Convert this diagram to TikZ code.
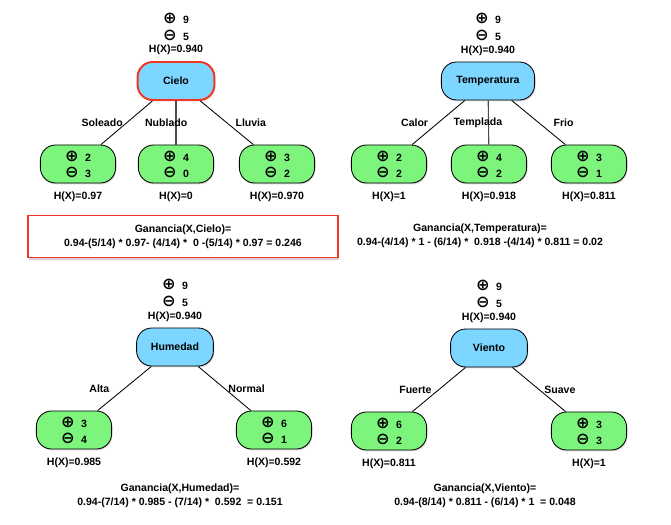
\documentclass[tikz,border=0pt]{standalone}
\usepackage{amsmath, amssymb}
\usepackage{fontspec}
\setmainfont{Liberation Sans}
\newfontfamily\symfont{DejaVu Sans}
\usepackage{tikz}
\usetikzlibrary{positioning,shadows}
\definecolor{rootblue}{RGB}{125,214,255}
\definecolor{leafgreen}{RGB}{125,245,125}
\definecolor{redline}{RGB}{240,55,35}
\newcommand{\pl}{{\symfont\bfseries\fontsize{11.5}{10}\selectfont ⊕}}
\newcommand{\mi}{{\symfont\bfseries\fontsize{11.5}{10}\selectfont ⊖}}
\newcommand{\cnt}[2]{\pl\hspace{4.5pt}#1\\\mi\hspace{4.5pt}#2}
\tikzset{
    attr/.style={
        draw,
        line width=0.6pt,
        fill=rootblue,
        rounded corners=0.38cm,
        minimum width=1.92cm,
        minimum height=0.95cm,
        drop shadow={shadow xshift=0.6pt, shadow yshift=-1pt, opacity=0.3}
    },
    leaf/.style={
        attr,
        fill=leafgreen,
        minimum width=1.88cm,
        align=center,
        font=\bfseries\fontsize{7.5}{11.3}\selectfont
    },
    counts/.style={
        align=center,
        inner sep=0pt,
        font=\bfseries\fontsize{7.5}{12}\selectfont
    },
    ent/.style={inner sep=0pt},
    lbl/.style={inner sep=2.5pt},
    gain/.style={align=center, font=\bfseries\fontsize{7.5}{10}\selectfont}
}

\begin{document}
\begin{tikzpicture}[x=0.025cm, y=-0.025cm,
    every node/.style={font=\bfseries\fontsize{7.5}{10}\selectfont}]
    \useasboundingbox (0,0) rectangle (671,525);

    % Cielo
    \node[attr, draw=redline, line width=1.4pt] (cielo) at (176,81) {Cielo};
    \node[leaf] (c1) at (78,164) {\cnt{2}{3}};
    \node[leaf] (c2) at (176,164) {\cnt{4}{0}};
    \node[leaf] (c3) at (277,164) {\cnt{3}{2}};
    \node[ent, above=4pt of cielo] (cielo-h) {H(X)=0.940};
    \node[counts, above=3pt of cielo-h] (cielo-n) {\cnt{9}{5}};
    \node[ent, below=6pt of c1] {H(X)=0.97};
    \node[ent, below=6pt of c2] {H(X)=0};
    \node[ent, below=6pt of c3] {H(X)=0.970};
    \draw[line width=0.6pt] (cielo) -- node[lbl, left] {Soleado} (c1);
    \draw[line width=0.8pt, black!70] (cielo) -- node[lbl, xshift=-7pt, black] {Nublado} (c2);
    \draw[line width=0.6pt] (cielo) -- node[lbl, right, xshift=3.4pt] {Lluvia} (c3);
    \node[gain, draw=redline, line width=1.2pt, fill=white,
          minimum width=7.75cm, minimum height=1.05cm,
          drop shadow={shadow xshift=0.6pt, shadow yshift=-1.5pt, opacity=0.35}]
        (cielo-g) at (183,236.5)
        {Ganancia(X,Cielo)=\\0.94-(5/14) * 0.97- (4/14) *\ \ 0 -(5/14) * 0.97 = 0.246};

    % Temperatura
    \node[attr, minimum width=2.33cm] (temp) at (488,81) {Temperatura};
    \node[leaf] (t1) at (389,164) {\cnt{2}{2}};
    \node[leaf] (t2) at (489,164) {\cnt{4}{2}};
    \node[leaf] (t3) at (589,164) {\cnt{3}{1}};
    \node[ent, above=4pt of temp] (temp-h) {H(X)=0.940};
    \node[counts, above=3pt of temp-h] (temp-n) {\cnt{9}{5}};
    \node[ent, below=6pt of t1] {H(X)=1};
    \node[ent, below=6pt of t2] {H(X)=0.918};
    \node[ent, below=6pt of t3] {H(X)=0.811};
    \draw[line width=0.6pt] (temp) -- node[lbl, left, xshift=-4.6pt] {Calor} (t1);
    \draw[line width=0.8pt, black!70] (temp) -- node[lbl, xshift=-7.5pt, black] {Templada} (t2);
    \draw[line width=0.6pt] (temp) -- node[lbl, right, xshift=8pt] {Frio} (t3);
    \node[gain] (temp-g) at (480,236)
        {Ganancia(X,Temperatura)=\\0.94-(4/14) * 1 - (6/14) *\ \ 0.918 -(4/14) * 0.811 = 0.02};

    % Humedad
    \node[attr] (hum) at (175,347) {Humedad};
    \node[leaf] (h1) at (74,430) {\cnt{3}{4}};
    \node[leaf] (h2) at (274,430) {\cnt{6}{1}};
    \node[ent, above=4pt of hum] (hum-h) {H(X)=0.940};
    \node[counts, above=3pt of hum-h] (hum-n) {\cnt{9}{5}};
    \node[ent, below=6pt of h1] {H(X)=0.985};
    \node[ent, below=6pt of h2] {H(X)=0.592};
    \draw[line width=0.6pt] (hum) -- node[lbl, left, xshift=-8pt] {Alta} (h1);
    \draw[line width=0.6pt] (hum) -- node[lbl, right] {Normal} (h2);
    \node[gain] (hum-g) at (180,496)
        {Ganancia(X,Humedad)=\\0.94-(7/14) * 0.985 - (7/14) *\ \ 0.592\ \ = 0.151};

    % Viento
    \node[attr] (vie) at (489,348) {Viento};
    \node[leaf] (v1) at (389,431) {\cnt{6}{2}};
    \node[leaf] (v2) at (589,431) {\cnt{3}{3}};
    \node[ent, above=4pt of vie] (vie-h) {H(X)=0.940};
    \node[counts, above=3pt of vie-h] (vie-n) {\cnt{9}{5}};
    \node[ent, below=6pt of v1] {H(X)=0.811};
    \node[ent, below=6pt of v2] {H(X)=1};
    \draw[line width=0.6pt] (vie) -- node[lbl, left, xshift=-2.5pt] {Fuerte} (v1);
    \draw[line width=0.6pt] (vie) -- node[lbl, right, xshift=1pt] {Suave} (v2);
    \node[gain] (vie-g) at (485,495.5)
        {Ganancia(X,Viento)=\\0.94-(8/14) * 0.811 - (6/14) * 1\ \ = 0.048};
\end{tikzpicture}
\end{document}
